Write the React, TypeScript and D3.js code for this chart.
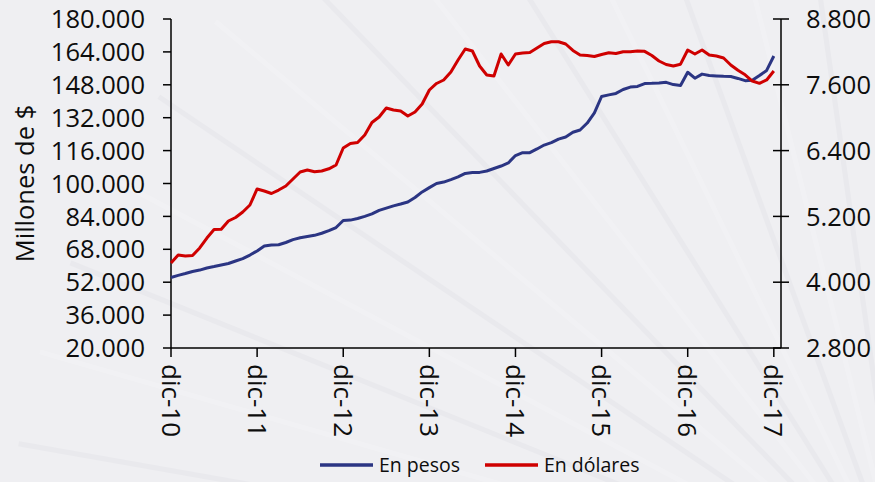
import React from "react";
import * as d3 from "d3";

const tickLabels = ["dic-10", "dic-11", "dic-12", "dic-13", "dic-14", "dic-15", "dic-16", "dic-17"];

const enPesos = [
  54300, 55300, 56200, 57200, 57900, 58900, 59600, 60400, 61100, 62300, 63500, 65200,
  67200, 69600, 70100, 70200, 71300, 72700, 73600, 74200, 74800, 75800, 77100, 78600,
  82000, 82200, 83000, 84000, 85200, 86900, 88000, 89100, 90000, 91000, 93200, 95900,
  98000, 100000, 100700, 101900, 103200, 104900, 105300, 105400, 106100, 107300, 108500, 110000,
  113600, 115000, 115000, 116800, 118700, 119900, 121600, 122600, 124900, 126000, 129400, 134300,
  142300, 143100, 143800, 145700, 146900, 147200, 148600, 148700, 148900, 149200, 148100, 147700,
  154100, 151200, 153200, 152500, 152300, 152100, 152000, 151100, 150000, 150200, 152500, 155000,
  162000,
];

const enDolares = [
  4350, 4496, 4478, 4487, 4624, 4806, 4961, 4965, 5116, 5180, 5280, 5408,
  5700, 5663, 5618, 5681, 5754, 5882, 6010, 6046, 6013, 6028, 6068, 6137,
  6447, 6529, 6548, 6685, 6912, 7013, 7177, 7140, 7122, 7031, 7104, 7250,
  7505, 7624, 7688, 7833, 8052, 8253, 8216, 7943, 7779, 7761, 8162, 7961,
  8162, 8180, 8189, 8271, 8353, 8386, 8386, 8344, 8226, 8143, 8136, 8116,
  8153, 8185, 8171, 8204, 8204, 8216, 8210, 8134, 8034, 7970, 7943, 7976,
  8235, 8162, 8235, 8143, 8125, 8089, 7961, 7864, 7782, 7669, 7627, 7688,
  7852,
];

const leftTicks = [20000, 36000, 52000, 68000, 84000, 100000, 116000, 132000, 148000, 164000, 180000];
const rightTicks = [2800, 4000, 5200, 6400, 7600, 8800];
const seriesNames = ["En pesos", "En dólares"];

const W = 875;
const H = 482;
const PL = 171;
const PR = 781;
const PT = 19;
const PB = 348;
const BLUE = "#2b3583";
const RED = "#cf0000";
const FONT = "'Open Sans', sans-serif";

const loc = d3.formatLocale({ decimal: ",", thousands: ".", grouping: [3], currency: ["$", ""] });
const fmt = loc.format(",d");

export default function App() {
  const x = d3.scaleLinear().domain([0, 85]).range([PL, PR]);
  const yL = d3.scaleLinear().domain([20000, 180000]).range([PB, PT]);
  const yR = d3.scaleLinear().domain([2800, 8800]).range([PB, PT]);

  const lineL = d3.line<number>().x((_, i) => x(i)).y((d) => yL(d));
  const lineR = d3.line<number>().x((_, i) => x(i)).y((d) => yR(d));

  const rays = d3.range(14).map((k) => {
    const a = (Math.PI * (190 + k * 6)) / 180;
    const cx = 905, cy = 600, r = 900;
    return { x2: cx + r * Math.cos(a), y2: cy + r * Math.sin(a) };
  });

  return (
    <svg
      width={W}
      height={H}
      style={{ position: "absolute", left: 0, top: 0, display: "block" }}
      fontFamily={FONT}
    >
      <rect x={0} y={0} width={W} height={H} fill="#efeff2" />
      <g opacity={0.18}>
        {rays.map((r, i) => (
          <line key={i} x1={905} y1={600} x2={r.x2} y2={r.y2} stroke={i % 2 ? "#ffffff" : "#cfcfd8"} strokeWidth={5} />
        ))}
      </g>

      {/* left axis */}
      <line x1={PL} x2={PL} y1={PT} y2={PB} stroke="#000" strokeWidth={1.5} />
      {leftTicks.map((t) => (
        <g key={t}>
          <line x1={PL - 8} x2={PL} y1={yL(t)} y2={yL(t)} stroke="#000" strokeWidth={1.5} />
          <text x={145} y={yL(t)} dy="0.36em" textAnchor="end" fontSize={25.5} fill="#0d0d0d">
            {fmt(t)}
          </text>
        </g>
      ))}
      <text
        transform={`translate(34,${(PT + PB) / 2}) rotate(-90)`}
        textAnchor="middle"
        fontSize={25.5}
        fill="#0d0d0d"
      >
        Millones de $
      </text>

      {/* right axis */}
      <line x1={PR} x2={PR} y1={PT} y2={PB} stroke="#000" strokeWidth={1.5} />
      {rightTicks.map((t) => (
        <g key={t}>
          <line x1={PR - 8} x2={PR + 8} y1={yR(t)} y2={yR(t)} stroke="#000" strokeWidth={1.5} />
          <text x={806} y={yR(t)} dy="0.36em" textAnchor="start" fontSize={25.5} fill="#0d0d0d">
            {fmt(t)}
          </text>
        </g>
      ))}

      {/* x axis */}
      <line x1={PL} x2={PR} y1={PB} y2={PB} stroke="#000" strokeWidth={1.5} />
      {tickLabels.map((lab, k) => {
        const xi = x(k * 12);
        return (
          <g key={lab}>
            <line x1={xi} x2={xi} y1={PB} y2={PB + 9} stroke="#000" strokeWidth={1.5} />
            <text
              transform={`translate(${xi},${364}) rotate(90)`}
              dy="0.36em"
              textAnchor="start"
              fontSize={26}
              fill="#0d0d0d"
            >
              {lab}
            </text>
          </g>
        );
      })}

      {/* series */}
      <path d={lineL(enPesos) || ""} fill="none" stroke={BLUE} strokeWidth={3} strokeLinejoin="round" />
      <path d={lineR(enDolares) || ""} fill="none" stroke={RED} strokeWidth={3} strokeLinejoin="round" />

      {/* legend */}
      <g fontSize={19.5} fill="#0d0d0d">
        <line x1={320} x2={373} y1={465} y2={465} stroke={BLUE} strokeWidth={3.5} />
        <text x={379} y={465} dy="0.35em">{seriesNames[0]}</text>
        <line x1={485} x2={538} y1={465} y2={465} stroke={RED} strokeWidth={3.5} />
        <text x={544} y={465} dy="0.35em">{seriesNames[1]}</text>
      </g>
    </svg>
  );
}
